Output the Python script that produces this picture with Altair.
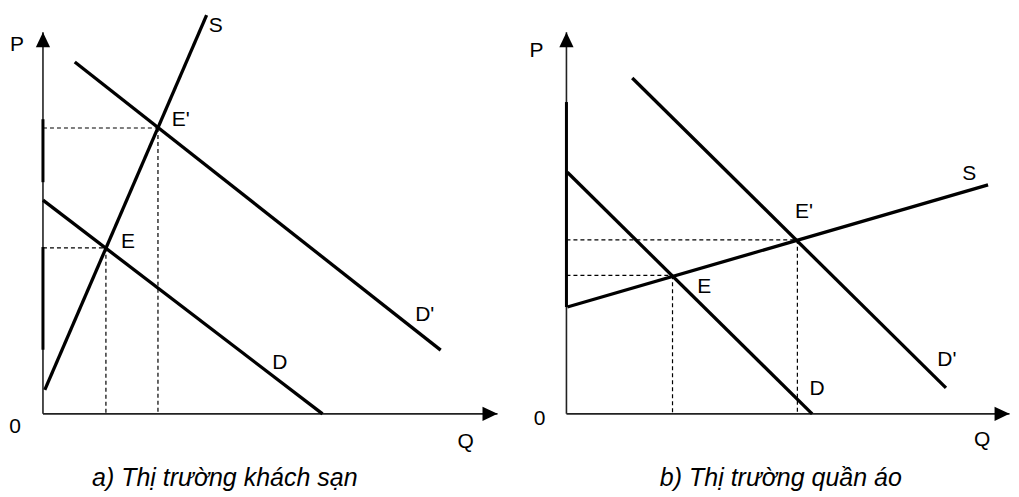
import altair as alt
import pandas as pd

# ---------------- Panel a) hotel market ----------------
a_curve_names = ["S", "S", "D", "D", "D'", "D'"]
a_curve_q = [0.04, 3.60, 0.0, 6.15, 0.70, 8.75]
a_curve_p = [0.63, 10.45, 5.60, 0.0, 9.22, 1.67]
a_eq_q = [1.385, 2.53]
a_eq_p = [4.35, 7.49]
a_label_text = ["S", "E'", "E", "D'", "D", "P", "0", "Q"]
a_label_q = [3.80, 3.03, 1.87, 8.40, 5.21, -0.57, -0.615, 9.30]
a_label_p = [10.16, 7.70, 4.50, 2.59, 1.34, 9.66, -0.34, -0.73]
a_thick_from = [6.07, 1.68]
a_thick_to = [7.72, 4.37]
a_axis_q = 10.0
a_axis_p = 10.0
a_caption = ["a) Thị trường khách sạn"]
a_caption_q = [4.0]
a_caption_p = [-1.68]

# ---------------- Panel b) clothing market ----------------
b_curve_names = ["S", "S", "D", "D", "D'", "D'"]
b_curve_q = [0.02, 9.42, 0.02, 5.49, 1.47, 8.48]
b_curve_p = [2.80, 6.00, 6.33, 0.0, 8.80, 0.68]
b_eq_q = [2.37, 5.16]
b_eq_p = [3.63, 4.56]
b_label_text = ["S", "E'", "E", "D'", "D", "P", "0", "Q"]
b_label_q = [9.00, 5.31, 3.08, 8.50, 5.60, -0.67, -0.60, 9.29]
b_label_p = [6.28, 5.29, 3.32, 1.41, 0.65, 9.50, -0.13, -0.68]
b_thick_from = [2.80]
b_thick_to = [8.17]
b_axis_q = 9.9
b_axis_p = 10.0
b_caption = ["b) Thị trường quần áo"]
b_caption_q = [4.79]
b_caption_p = [-1.68]

FONT = "Liberation Sans"


def panel(names, cq, cp, eq, ep, lt, lq, lp, tf, tt, axq, axp,
          cap, capq, capp, qdom, pdom, width, height):
    xs = alt.Scale(domain=qdom, nice=False, zero=False, padding=0)
    ys = alt.Scale(domain=pdom, nice=False, zero=False, padding=0)

    def X(f="q"):
        return alt.X(f"{f}:Q", scale=xs, axis=None)

    def Y(f="p"):
        return alt.Y(f"{f}:Q", scale=ys, axis=None)

    curves = pd.DataFrame({"curve": names, "q": cq, "p": cp})
    lines = alt.Chart(curves).mark_line(color="black", strokeWidth=3.3).encode(
        x=X(), y=Y(), detail="curve:N")

    axes_df = pd.DataFrame({"q": [0, 0], "p": [0, 0],
                            "q2": [axq, 0], "p2": [0, axp]})
    axes = alt.Chart(axes_df).mark_rule(color="#222", strokeWidth=1.6).encode(
        x=X(), y=Y(), x2="q2:Q", y2="p2:Q")

    thick_df = pd.DataFrame({"q": [0] * len(tf), "p": tf, "p2": tt})
    thick = alt.Chart(thick_df).mark_rule(color="black", strokeWidth=3).encode(
        x=X(), y=Y(), y2="p2:Q")

    hdf = pd.DataFrame({"q": [0] * len(eq), "q2": eq, "p": ep})
    hdash = alt.Chart(hdf).mark_rule(color="black", strokeWidth=1.2,
                                     strokeDash=[4, 3]).encode(
        x=X(), x2="q2:Q", y=Y())
    vdf = pd.DataFrame({"q": eq, "p": ep, "p2": [0] * len(eq)})
    vdash = alt.Chart(vdf).mark_rule(color="black", strokeWidth=1.2,
                                     strokeDash=[4, 3]).encode(
        x=X(), y=Y(), y2="p2:Q")

    up_df = pd.DataFrame({"q": [0], "p": [axp]})
    up = alt.Chart(up_df).mark_point(
        shape="M0,0L0.95,2L-0.95,2Z", filled=True, size=225,
        color="black", opacity=1, strokeWidth=0).encode(x=X(), y=Y())
    right_df = pd.DataFrame({"q": [axq], "p": [0]})
    right = alt.Chart(right_df).mark_point(
        shape="M0,0L-2,-0.95L-2,0.95Z", filled=True, size=225,
        color="black", opacity=1, strokeWidth=0).encode(x=X(), y=Y())

    lab_df = pd.DataFrame({"t": lt, "q": lq, "p": lp})
    labels = alt.Chart(lab_df).mark_text(
        font=FONT, fontSize=21, color="black", align="center",
        baseline="middle").encode(x=X(), y=Y(), text="t:N")

    cap_df = pd.DataFrame({"t": cap, "q": capq, "p": capp})
    caption = alt.Chart(cap_df).mark_text(
        font=FONT, fontSize=25, fontStyle="italic", color="black",
        align="center", baseline="middle").encode(x=X(), y=Y(), text="t:N")

    return alt.layer(axes, thick, hdash, vdash, lines, up, right, labels,
                     caption).properties(width=width, height=height)


# page layout: total 1003 x 481 so the page never scrolls
P_UNIT = 38.2
H = 481
pdom = [-(489 - 412) / P_UNIT, (412 - 8) / P_UNIT]

WA, WB = 504, 499
qa_unit, qb_unit = 45.5, 44.8
qa_min = (8 - 43) / qa_unit
qa_dom = [qa_min, qa_min + WA / qa_unit]
qb_min = (512 - 567) / qb_unit
qb_dom = [qb_min, qb_min + WB / qb_unit]

left = panel(a_curve_names, a_curve_q, a_curve_p, a_eq_q, a_eq_p,
             a_label_text, a_label_q, a_label_p, a_thick_from, a_thick_to,
             a_axis_q, a_axis_p, a_caption, a_caption_q, a_caption_p,
             qa_dom, pdom, WA, H)
right = panel(b_curve_names, b_curve_q, b_curve_p, b_eq_q, b_eq_p,
              b_label_text, b_label_q, b_label_p, b_thick_from, b_thick_to,
              b_axis_q, b_axis_p, b_caption, b_caption_q, b_caption_p,
              qb_dom, pdom, WB, H)

chart = alt.hconcat(left, right, spacing=0).properties(
    padding=0, background="white"
).configure_view(stroke=None)

chart.save("out.html", embed_options={"renderer": "svg", "actions": False})
